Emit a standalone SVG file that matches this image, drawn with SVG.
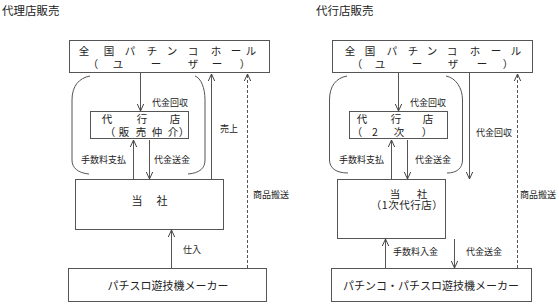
<svg xmlns="http://www.w3.org/2000/svg" width="559" height="304" viewBox="0 0 559 304">
<defs>
<marker id="ah" markerUnits="userSpaceOnUse" markerWidth="12" markerHeight="10" refX="0" refY="0" viewBox="-8 -5 10 10" orient="auto" overflow="visible">
<path d="M-7,-3.2 L0,0 L-7,3.2" fill="none" stroke="#444" stroke-width="1"/>
</marker>
<style>
text{font-family:"Noto Sans CJK JP","Noto Sans CJK SC",sans-serif;fill:#222}
.t{font-size:11.5px}
.b{font-size:11px;text-anchor:middle}
.r{font-size:10.5px;text-anchor:middle}
.s{font-size:9px}
.box{fill:#fff;stroke:#555;stroke-width:1}
.ln{fill:none;stroke:#555;stroke-width:1}
.ar{fill:none;stroke:#555;stroke-width:1;marker-end:url(#ah)}
.da{fill:none;stroke:#555;stroke-width:1;stroke-dasharray:3 2;marker-end:url(#ah)}
</style>
</defs>
<text class="t" x="2" y="15">代理店販売</text>
<text class="t" x="316" y="15">代行店販売</text>
<g id="connectors">
<path class="ln" d="M90,76 C79,78 72,86 72,100 L72,160 C72,168 78,173 89,174"/>
<path class="ln" d="M195,76 C201,78 205,88 205,100 L205,160 C205,168 200,173 188,174"/>
<line class="ar" x1="140.5" y1="73" x2="140.5" y2="111"/>
<line class="ar" x1="133.5" y1="179" x2="133.5" y2="140"/>
<line class="ar" x1="149.5" y1="140" x2="149.5" y2="179"/>
<line class="ar" x1="211.5" y1="179" x2="211.5" y2="74"/>
<line class="da" x1="247.5" y1="268" x2="247.5" y2="74"/>
<line class="ar" x1="171.5" y1="268" x2="171.5" y2="230"/>
<path class="ln" d="M347,76 C336,78 329.5,86 329.5,100 L329.5,160 C329.5,168 336,173 348,173"/>
<path class="ln" d="M446,76 C456,78 462.5,88 462.5,100 L462.5,160 C462.5,168 457,173 447,173"/>
<line class="ar" x1="398.5" y1="73" x2="398.5" y2="111"/>
<line class="ar" x1="391.5" y1="179" x2="391.5" y2="140"/>
<line class="ar" x1="407.5" y1="140" x2="407.5" y2="179"/>
<line class="ar" x1="469.5" y1="73" x2="469.5" y2="179"/>
<line class="da" x1="517.5" y1="268" x2="517.5" y2="74"/>
<line class="ar" x1="385.5" y1="268" x2="385.5" y2="239"/>
<line class="ar" x1="454.5" y1="239" x2="454.5" y2="268"/>
<text class="s" x="152" y="106">代金回収</text>
<text class="s" x="81" y="163">手数料支払</text>
<text class="s" x="154" y="163">代金送金</text>
<text class="s" x="220" y="132">売上</text>
<text class="s" x="253" y="198">商品搬送</text>
<text class="s" x="183" y="253">仕入</text>
<text class="s" x="410" y="106">代金回収</text>
<text class="s" x="339" y="163">手数料支払</text>
<text class="s" x="415" y="163">代金送金</text>
<text class="s" x="476" y="136">代金回収</text>
<text class="s" x="520" y="198">商品搬送</text>
<text class="s" x="393" y="255">手数料入金</text>
<text class="s" x="466" y="255">代金送金</text>
</g>
<g id="hall-left">
<rect class="box" x="69.5" y="40.5" width="200" height="32"/>
<text class="r" x="84 109 130 152 172 193 216 236 251" y="55">全国パチンコホール</text>
<text class="r" x="93 118 156 193 217 245" y="67.5">（ユーザー）</text>
</g>
<g id="agent-left">
<rect class="box" x="90.5" y="111.5" width="98" height="27"/>
<text class="r" x="107 142 175" y="123">代行店</text>
<text class="r" x="110 124 141 157 173 184" y="136">（販売仲介）</text>
</g>
<g id="company-left">
<rect class="box" x="75.5" y="179.5" width="148" height="50"/>
<text class="b" x="137 162" y="205">当社</text>
</g>
<g id="maker-left">
<rect class="box" x="68.5" y="268.5" width="198" height="33"/>
<text class="b" x="168" y="290">パチスロ遊技機メーカー</text>
</g>
<g id="hall-right">
<rect class="box" x="332.5" y="40.5" width="200" height="32"/>
<text class="r" x="350 370 392 413 432 452 475 496 516" y="55">全国パチンコホール</text>
<text class="r" x="357 380 417 453 482 508" y="67.5">（ユーザー）</text>
</g>
<g id="agent-right">
<rect class="box" x="349.5" y="111.5" width="98" height="27"/>
<text class="r" x="362 396 428" y="123">代行店</text>
<text class="r" x="357 375 399 427" y="136">（2次）</text>
</g>
<g id="company-right">
<rect class="box" x="337.5" y="179.5" width="108" height="59"/>
<text class="r" x="395 422" y="197.5">当社</text>
<text class="r" x="407" y="209" letter-spacing="0.5">（1次代行店）</text>
</g>
<g id="maker-right">
<rect class="box" x="331.5" y="268.5" width="200" height="33"/>
<text class="b" x="431" y="290">パチンコ・パチスロ遊技機メーカー</text>
</g>
</svg>
